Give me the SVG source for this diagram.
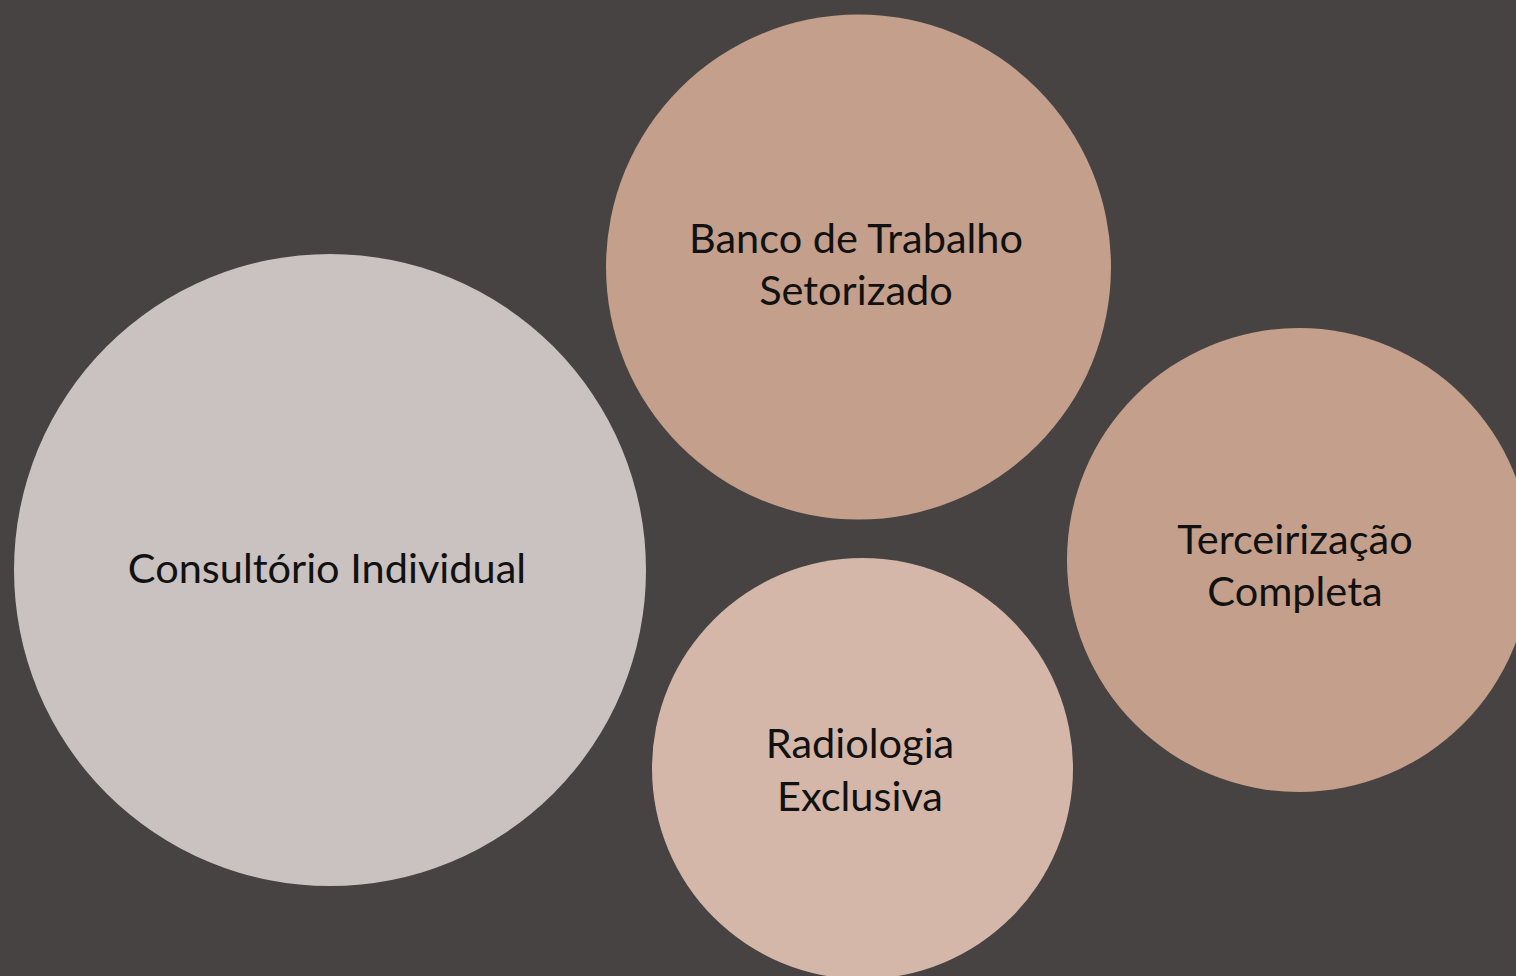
<svg xmlns="http://www.w3.org/2000/svg" width="1516" height="976" viewBox="0 0 1516 976">
<style>
.lbl{font-family:Lato,"Open Sans","Liberation Sans",sans-serif;font-size:41.5px;fill:#111;text-anchor:middle}
</style>
<rect x="0" y="0" width="1516" height="976" fill="#474343"/>
<g id="node-consultorio">
<circle cx="330" cy="570" r="316" fill="#C9C2C0"/>
<text class="lbl" x="327" y="583">Consultório Individual</text>
</g>
<g id="node-banco">
<circle cx="858.5" cy="267" r="252.5" fill="#C49F8B"/>
<text class="lbl" x="856" y="253">Banco de Trabalho</text>
<text class="lbl" x="856" y="305">Setorizado</text>
</g>
<g id="node-terceirizacao">
<circle cx="1299" cy="560" r="232" fill="#C49F8B"/>
<text class="lbl" x="1295" y="554">Terceirização</text>
<text class="lbl" x="1295" y="606">Completa</text>
</g>
<g id="node-radiologia">
<circle cx="862.5" cy="768.5" r="210.5" fill="#D4B7A9"/>
<text class="lbl" x="860" y="758">Radiologia</text>
<text class="lbl" x="860" y="811">Exclusiva</text>
</g>
<g id="connectors"/>
</svg>
